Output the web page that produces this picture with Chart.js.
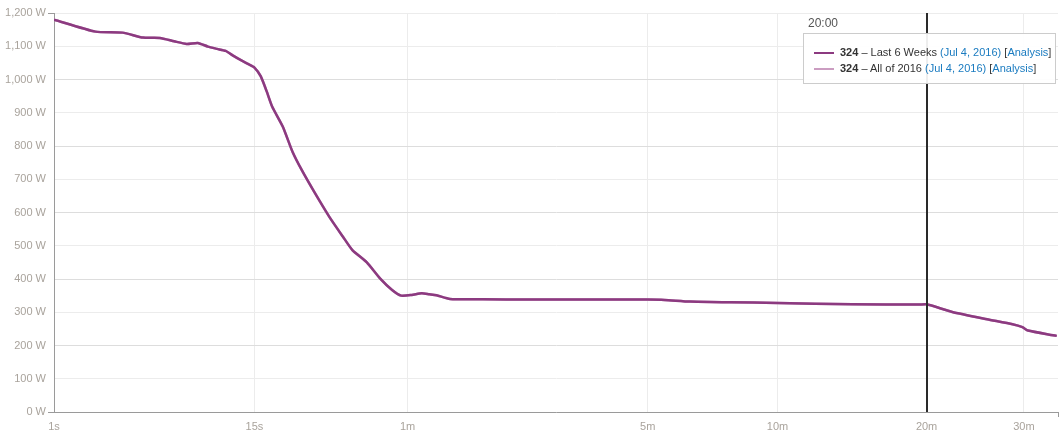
<!DOCTYPE html>
<html>
<head>
<meta charset="utf-8">
<script src="https://cdn.jsdelivr.net/npm/chart.js@4/dist/chart.umd.min.js"></script>
<style>
    body { margin: 0; background: #fff; font-family: "Liberation Sans", Arial, sans-serif; }
    #wrap { position: relative; width: 1063px; height: 446px; }
    #marker-time { position: absolute; top: 16px; font-size: 12px; color: #555; }
    #info {
        position: absolute; top: 33px; left: 803px; width: 253px; height: 51px;
        border: 1px solid #ccc; background: rgba(255, 255, 255, 0.92);
        font-size: 11px; color: #333; box-sizing: border-box;
    }
    #info .row { position: absolute; left: 36px; white-space: nowrap; }
    #info .sw { position: absolute; left: -26px; top: 6px; width: 20px; height: 2px; }
    #info a { color: #1a7bc0; text-decoration: none; }
</style>
</head>
<body>
<div id="wrap">
    <canvas id="powerChart"></canvas>
    <div id="marker-time"></div>
    <div id="info"></div>
</div>
<script>
// ================= DATA =================
const seconds = [1, 2, 3, 4, 5, 6, 7, 8, 9, 10, 11, 12, 13, 14, 15, 16, 17, 18, 20, 22, 24, 27, 31, 35, 38, 43, 48, 53, 57, 62, 67, 71, 75, 83, 105, 145, 300, 330, 380, 470, 600, 860, 1160, 1200, 1340, 1550, 1720, 1790, 1830, 2020, 2050];
const lastSixWeeks = [1180, 1144, 1141, 1126, 1125, 1115, 1107, 1110, 1099, 1092, 1086, 1071, 1058, 1047, 1036, 1010, 965, 918, 858, 782, 728, 662, 587, 527, 487, 450, 402, 367, 350, 352, 357, 354, 351, 340, 339, 338, 338, 337, 332, 330, 328, 324, 323, 324, 301, 279, 264, 255, 245, 231, 229];
const allOf2016 = [1180, 1144, 1141, 1126, 1125, 1115, 1107, 1110, 1099, 1092, 1086, 1071, 1058, 1047, 1036, 1010, 965, 918, 858, 782, 728, 662, 587, 527, 487, 450, 402, 367, 350, 352, 357, 354, 351, 340, 339, 338, 338, 337, 332, 330, 328, 324, 323, 324, 301, 279, 264, 255, 245, 231, 229];

const xTicks = [1, 15, 60, 300, 600, 1200, 1800];
const xTickLabels = ["1s", "15s", "1m", "5m", "10m", "20m", "30m"];
const xMin = 1;
const xMax = 2060;
const yTicks = [0, 100, 200, 300, 400, 500, 600, 700, 800, 900, 1000, 1100, 1200];

const MARKER_SECONDS = 1200;
const seriesNames = ["Last 6 Weeks", "All of 2016"];
const seriesDates = ["Jul 4, 2016", "Jul 4, 2016"];

// ================= CONFIG =================
const DARK = "#8c3a80";
const LIGHT = "#cb9dc1";
const TICK_COLOR = "#a9a39c";
const EXP = 0.2; // duration axis is spaced by t^0.2

// ================= SCALE =================
class PowerScale extends Chart.LinearScale {
    buildTicks() {
        const ticks = xTicks.map(v => ({ value: v }));
        ticks.push({ value: this.max });   // end mark, no label
        return ticks;
    }
    configure() {
        super.configure();
        this._pMin = Math.pow(this.min, EXP);
        this._pRange = Math.pow(this.max, EXP) - this._pMin;
    }
    getPixelForValue(value) {
        return this.getPixelForDecimal((Math.pow(value, EXP) - this._pMin) / this._pRange);
    }
    getValueForPixel(pixel) {
        return Math.pow(this._pMin + this.getDecimalForPixel(pixel) * this._pRange, 1 / EXP);
    }
}
PowerScale.id = "power";
PowerScale.defaults = Chart.LinearScale.defaults;
Chart.register(PowerScale);

function toPoints(values) {
    return seconds.map((s, i) => ({ x: s, y: values[i] }));
}

function clock(sec) {
    const m = Math.floor(sec / 60);
    const s = sec % 60;
    return m + ":" + String(s).padStart(2, "0");
}

// marker line at the selected duration
const markerPlugin = {
    id: "marker",
    afterDatasetsDraw(chart) {
        const x = Math.round(chart.scales.x.getPixelForValue(MARKER_SECONDS));
        const area = chart.chartArea;
        const ctx = chart.ctx;
        ctx.save();
        ctx.strokeStyle = "#2a2a2a";
        ctx.lineWidth = 2;
        ctx.beginPath();
        ctx.moveTo(x, area.top);
        ctx.lineTo(x, area.bottom);
        ctx.stroke();
        ctx.restore();
    }
};

const font = { family: "'Liberation Sans', Arial, sans-serif", size: 11 };

const ctx = document.getElementById("powerChart").getContext("2d");
const chart = new Chart(ctx, {
    type: "line",
    data: {
        datasets: [{
            label: seriesNames[0],
            data: toPoints(lastSixWeeks),
            borderColor: DARK,
            borderWidth: 2.5,
            pointRadius: 0,
            tension: 0.2
        }, {
            label: seriesNames[1],
            data: toPoints(allOf2016),
            borderColor: LIGHT,
            borderWidth: 2.5,
            pointRadius: 0,
            tension: 0.2
        }]
    },
    options: {
        responsive: true,
        maintainAspectRatio: false,
        animation: false,
        layout: { padding: { top: 13, right: 5, left: 0, bottom: 0 } },
        plugins: {
            legend: { display: false },
            tooltip: { enabled: false }
        },
        scales: {
            x: {
                type: "power",
                min: xMin,
                max: xMax,
                border: { color: "#9a9a9a", width: 1 },
                grid: {
                    color: c => (c.index === 0 || c.index === xTicks.length) ? "rgba(0,0,0,0)" : "#ececec",
                    tickColor: c => c.index === xTicks.length ? "#9a9a9a" : "rgba(0,0,0,0)",
                    tickLength: 5
                },
                ticks: {
                    autoSkip: false,
                    maxRotation: 0,
                    padding: 3,
                    color: TICK_COLOR,
                    font: font,
                    callback: (v, i) => i < xTickLabels.length ? xTickLabels[i] : ""
                },
                afterFit: s => { s.height = 34; }
            },
            y: {
                min: 0,
                max: 1200,
                afterBuildTicks: s => { s.ticks = yTicks.map(v => ({ value: v })); },
                border: { color: "#9a9a9a", width: 1 },
                grid: {
                    color: c => (c.tick && c.tick.value % 200 === 0 && c.tick.value !== 1200) ? "#dddddd" : "#ececec",
                    tickColor: c => (c.tick && (c.tick.value === 0 || c.tick.value === 1200)) ? "#9a9a9a" : "rgba(0,0,0,0)",
                    tickLength: 6
                },
                ticks: {
                    padding: 2,
                    color: TICK_COLOR,
                    font: font,
                    callback: v => v.toLocaleString("en-US") + " W"
                },
                afterFit: s => { s.width = 54; }
            }
        }
    },
    plugins: [markerPlugin]
});

// ================= INFO BOX =================
const markerValue = lastSixWeeks[seconds.indexOf(MARKER_SECONDS)];
const info = document.getElementById("info");
const colors = [DARK, LIGHT];
seriesNames.forEach((name, i) => {
    const row = document.createElement("div");
    row.className = "row";
    row.style.top = (12 + i * 16) + "px";
    row.innerHTML = '<span class="sw" style="background:' + colors[i] + '"></span>' +
        "<b>" + (i === 0 ? markerValue : allOf2016[seconds.indexOf(MARKER_SECONDS)]) + "</b> \u2013 " + name +
        ' <a>(' + seriesDates[i] + ')</a> [<a>Analysis</a>]';
    info.appendChild(row);
});
const mt = document.getElementById("marker-time");
mt.innerText = clock(MARKER_SECONDS);
mt.style.left = "808px";
</script>
</body>
</html>
